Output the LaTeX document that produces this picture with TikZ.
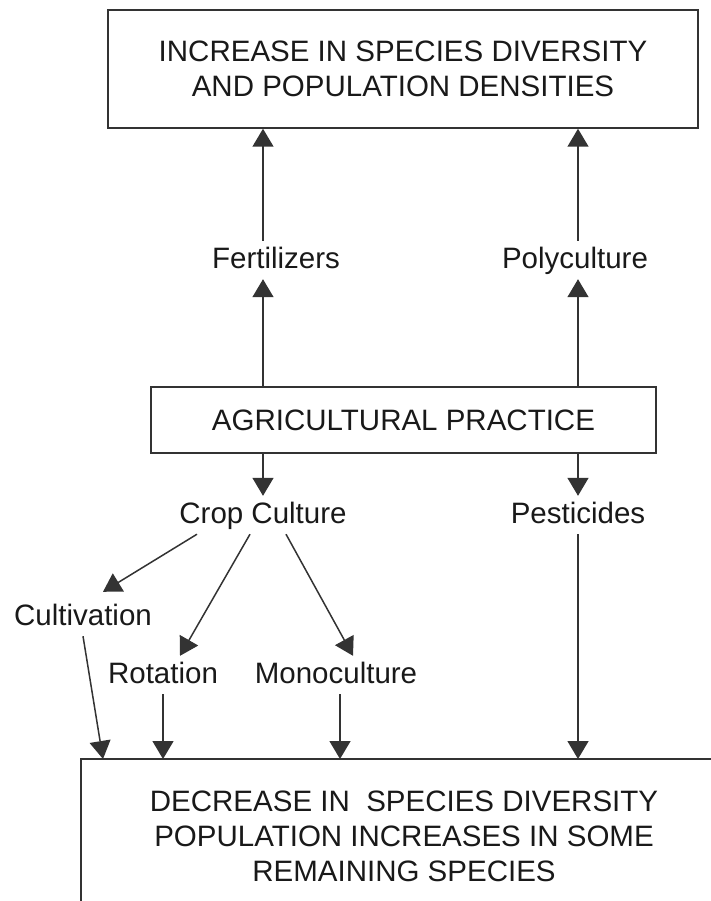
\documentclass[tikz,border=0pt]{standalone}
\usepackage{fontspec}
\setmainfont{Liberation Sans}
\usetikzlibrary{arrows.meta}

\begin{document}
\begin{tikzpicture}[x=1pt,y=-1pt,
		every node/.style={font=\fontsize{29.5}{35}\selectfont,text=black!90},
		lbl/.style={inner xsep=0pt,inner ysep=5pt,text height=22pt,text depth=6pt,anchor=base},
		bx/.style={draw=black!80,line width=1.5pt,align=center},
		arr/.style={draw=black!80,line width=1.5pt,-{Triangle[length=18pt,width=21pt]}}]
		\useasboundingbox (0,0) rectangle (711,901);
		\clip (0,0) rectangle (711,901);
		\node[bx,minimum width=590pt,minimum height=118pt] (incr) at (403,69) {INCREASE IN SPECIES DIVERSITY\\AND POPULATION DENSITIES};
		\node[bx,minimum width=505pt,minimum height=66pt] (agri) at (403.5,420) {AGRICULTURAL PRACTICE};
		\node[lbl] (fert) at (276,268) {Fertilizers};
		\node[lbl] (poly) at (575,268) {Polyculture};
		\node[lbl] (crop) at (263,523) {Crop Culture};
		\node[lbl] (pest) at (578,523) {Pesticides};
		\node[lbl] (cult) at (83,625) {Cultivation};
		\node[lbl] (rot) at (163,683) {Rotation};
		\node[lbl] (mono) at (336,683) {Monoculture};
		\coordinate (bl) at (81,759);
		\draw[bx] (bl) rectangle (780,980);
		\node[align=center] (decr) at (404,836) {DECREASE IN\ \ SPECIES DIVERSITY\\POPULATION INCREASES IN SOME\\REMAINING SPECIES};
		% upward
		\draw[arr] (agri.north -| crop) -- (fert.south -| crop);
		\draw[arr] (fert.north -| crop) -- (incr.south -| crop);
		\draw[arr] (agri.north -| pest) -- (poly.south -| pest);
		\draw[arr] (poly.north -| pest) -- (incr.south -| pest);
		% downward
		\draw[arr] (agri.south -| crop) -- (crop.north);
		\draw[arr] (agri.south -| pest) -- (pest.north);
		\draw[arr] ([xshift=-66pt]crop.south) -- ([xshift=20pt,yshift=6pt]cult.north);
		\draw[arr] ([xshift=-13pt]crop.south) -- ([xshift=17pt]rot.north);
		\draw[arr] ([xshift=23pt]crop.south) -- ([xshift=17pt]mono.north);
		\draw[arr] (cult.south) -- ([xshift=22pt]bl);
		\draw[arr] (rot.south) -- (rot.south |- bl);
		\draw[arr] ([xshift=4pt]mono.south) -- ([xshift=4pt]mono.south |- bl);
		\draw[arr] (pest.south) -- (pest.south |- bl);
\end{tikzpicture}
\end{document}
